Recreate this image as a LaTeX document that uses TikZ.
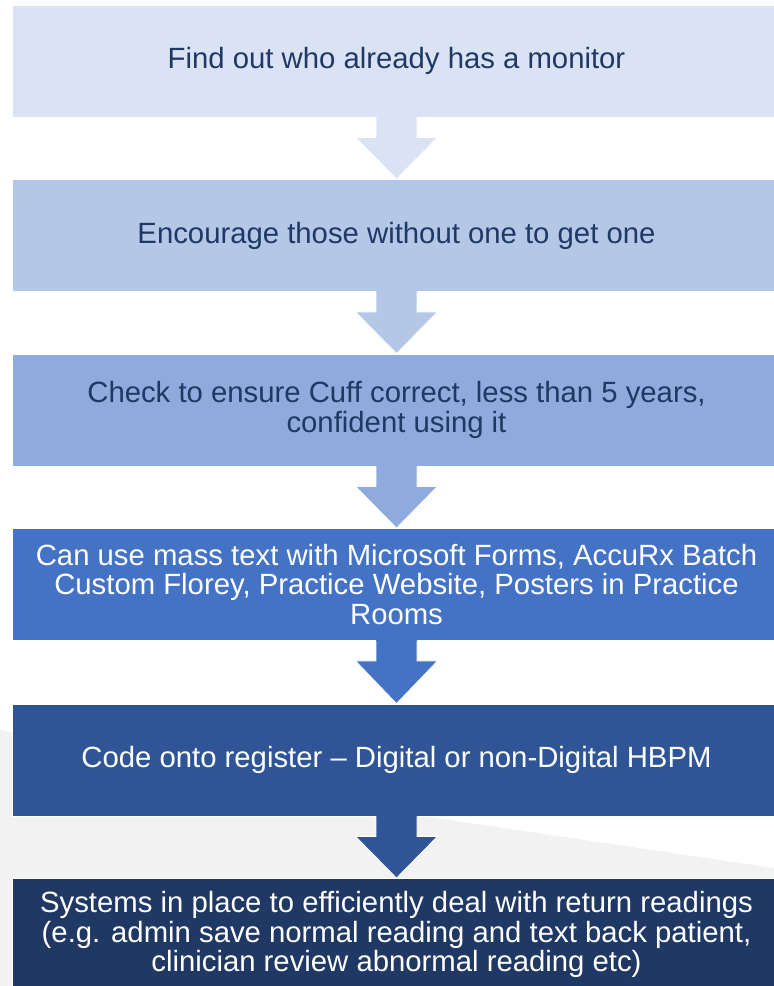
\documentclass[tikz,border=0pt]{standalone}
\usepackage{fontspec}
\setmainfont{Liberation Sans}
\usetikzlibrary{calc}

\definecolor{fillA}{HTML}{DAE3F3}
\definecolor{fillB}{HTML}{B4C7E7}
\definecolor{fillC}{HTML}{8FAADC}
\definecolor{fillD}{HTML}{4472C4}
\definecolor{fillE}{HTML}{2F5597}
\definecolor{fillF}{HTML}{203864}
\definecolor{inkdark}{HTML}{1F3864}
\definecolor{backdrop}{HTML}{F2F2F2}

% block arrow from the bottom of one box to the top of the next
\newcommand\flowarrow[3]{%
  \fill[#3] ($(#1.south)+(-20.5,-1.5)$) -- ($(#1.south)+(-20.5,20)$)
     -- ($(#1.south)+(-41,20)$) -- (#2.north) -- ($(#1.south)+(41,20)$)
     -- ($(#1.south)+(20.5,20)$) -- ($(#1.south)+(20.5,-1.5)$) -- cycle;
  \draw[white, line width=0.8pt, line join=miter]
     ($(#1.south)+(-20.5,0)$) -- ($(#1.south)+(-20.5,20)$)
     -- ($(#1.south)+(-41,20)$) -- (#2.north) -- ($(#1.south)+(41,20)$)
     -- ($(#1.south)+(20.5,20)$) -- ($(#1.south)+(20.5,0)$);
}

\begin{document}
\begin{tikzpicture}[x=1pt, y=-1pt,
  stepbox/.style={rectangle, draw=white, line width=0.8pt,
    minimum width=769pt, minimum height=112pt, inner sep=0pt,
    align=center, font=\fontsize{29.3}{29.2}\selectfont},
  darktext/.style={text=inkdark},
  lighttext/.style={text=white}]
  \useasboundingbox (0,0) rectangle (774,986);
  \clip (0,0) rectangle (774,986);

  % pale backdrop behind the lower part
  \fill[backdrop] (0,730) -- (443,819) -- (774,868) -- (774,986) -- (0,986) -- cycle;

  \node[stepbox, darktext, fill=fillA] (s1) at (396.5,61) {Find out who already has a monitor};
  \node[stepbox, darktext, fill=fillB] (s2) at (396.5,235.5) {Encourage those without one to get one};
  \node[stepbox, darktext, fill=fillC] (s3) at (396.5,410) {Check to ensure Cuff correct, less than 5 years,\\ confident using it};
  \node[stepbox, lighttext, fill=fillD] (s4) at (396.5,584.5) {Can use mass text with Microsoft Forms, AccuRx Batch\\ Custom Florey, Practice Website, Posters in Practice\\ Rooms};
  \node[stepbox, lighttext, fill=fillE] (s5) at (396.5,760) {Code onto register -- Digital or non-Digital HBPM};
  \node[stepbox, lighttext, fill=fillF] (s6) at (396.5,934.5) {Systems in place to efficiently deal with return readings\\ (e.g. admin save normal reading and text back patient,\\ clinician review abnormal reading etc)};

  \flowarrow{s1}{s2}{fillA}
  \flowarrow{s2}{s3}{fillB}
  \flowarrow{s3}{s4}{fillC}
  \flowarrow{s4}{s5}{fillD}
  \flowarrow{s5}{s6}{fillE}
\end{tikzpicture}
\end{document}
